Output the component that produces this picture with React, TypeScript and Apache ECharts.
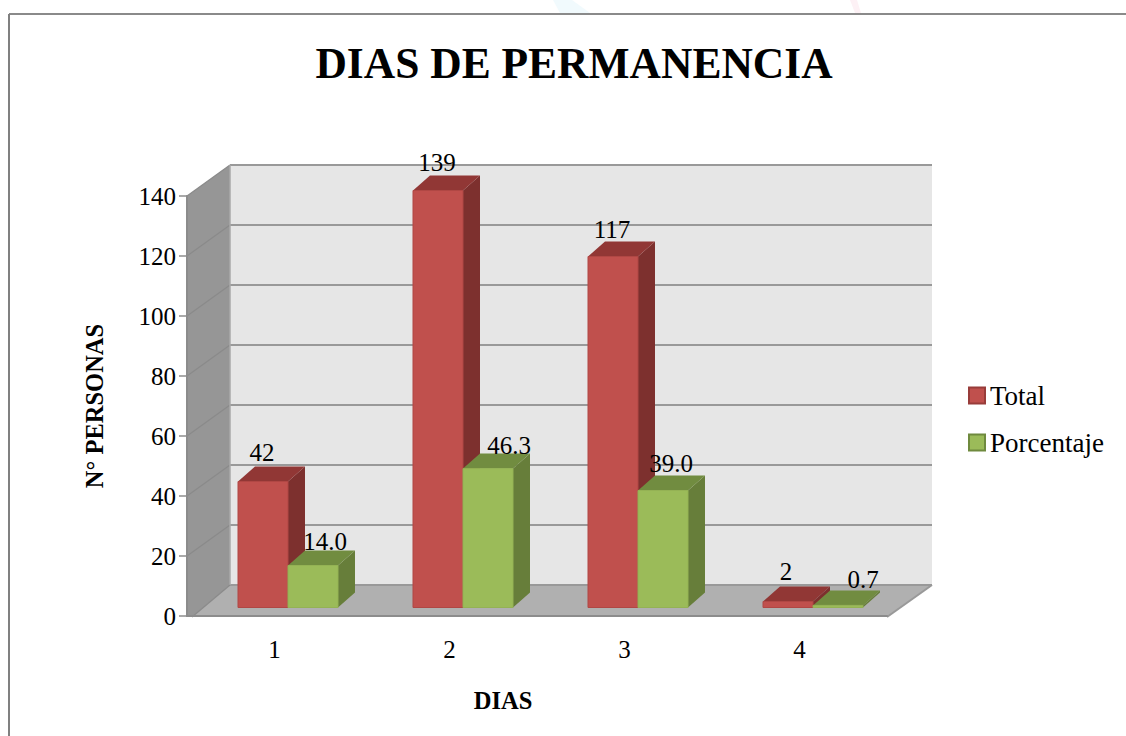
import React, { useEffect, useRef } from "react";
import * as echarts from "echarts";

const categories = ["1", "2", "3", "4"];
const totalValues = [42, 139, 117, 2];
const percentValues = [14.0, 46.3, 39.0, 0.7];
const totalLabels = ["42", "139", "117", "2"];
const percentLabels = ["14.0", "46.3", "39.0", "0.7"];
const yTicks = [0, 20, 40, 60, 80, 100, 120, 140];

// Manual label nudges of the original (px from front-face centre / top)
const totalNudge = [[-1, -29], [-1, -28], [-1, -27], [-2, -30]];
const percentNudge = [[12, -24], [21, -23], [8, -27], [25, -26]];

const FONT = "Liberation Serif";
const WALL_DX = 43;
const WALL_DY = -31;
const BAR_DX = 13.5;
const BAR_DY = -8.5;
const BAR_W = 50;
const DEPTH_X = 17;
const DEPTH_Y = -15;

function barRender(labels: string[], nudges: number[][], side: -1 | 1, c: { front: string; top: string; right: string; edge: string }) {
  return (params: any, api: any) => {
    const i = params.dataIndex;
    const top = api.coord([api.value(0), api.value(1)]);
    const base = api.coord([api.value(0), 0]);
    const cx = top[0] + BAR_DX;
    const x0 = side < 0 ? cx - BAR_W : cx;
    const x1 = x0 + BAR_W;
    const yT = top[1] + BAR_DY;
    const yB = base[1] + BAR_DY;
    return {
      type: "group",
      children: [
        { type: "polygon", shape: { points: [[x1, yT], [x1 + DEPTH_X, yT + DEPTH_Y], [x1 + DEPTH_X, yB + DEPTH_Y], [x1, yB]] }, style: { fill: c.right } },
        { type: "polygon", shape: { points: [[x0, yT], [x0 + DEPTH_X, yT + DEPTH_Y], [x1 + DEPTH_X, yT + DEPTH_Y], [x1, yT]] }, style: { fill: c.top } },
        { type: "rect", shape: { x: x0, y: yT, width: BAR_W, height: yB - yT }, style: { fill: c.front, stroke: c.edge, lineWidth: 1 } },
        {
          type: "text",
          style: {
            text: labels[i],
            x: (x0 + x1) / 2 + nudges[i][0],
            y: yT + nudges[i][1],
            align: "center",
            verticalAlign: "middle",
            fill: "#000",
            font: `25px "${FONT}"`,
          },
        },
      ],
    };
  };
}

function wallRender(params: any, api: any) {
  const cs = params.coordSys;
  const xL = cs.x;
  const xR = cs.x + cs.width;
  const y0 = api.coord([0, 0])[1];
  const yTop = api.coord([0, 140])[1];
  const children: any[] = [
    { type: "polygon", shape: { points: [[xL + WALL_DX, yTop + WALL_DY], [xR + WALL_DX + 2, yTop + WALL_DY], [xR + WALL_DX + 2, y0 + WALL_DY], [xL + WALL_DX, y0 + WALL_DY]] }, style: { fill: "#E6E6E6" } },
    { type: "polygon", shape: { points: [[xL, yTop], [xL + WALL_DX, yTop + WALL_DY], [xL + WALL_DX, y0 + WALL_DY], [xL + 5, y0 + 1], [xL, y0 + 1]] }, style: { fill: "#969696" } },
    { type: "polygon", shape: { points: [[xL + 5, y0 + 1], [xL + WALL_DX, y0 + WALL_DY], [xR + WALL_DX + 2, y0 + WALL_DY], [xR, y0 + 1]] }, style: { fill: "#B0B0B0" } },
  ];
  yTicks.forEach((t) => {
    const y = api.coord([0, t])[1];
    if (t > 0) {
      children.push({ type: "line", shape: { x1: xL, y1: y, x2: xL + WALL_DX, y2: y + WALL_DY }, style: { stroke: "#8A8A8A", lineWidth: 1.2 } });
    }
    children.push({ type: "line", shape: { x1: xL + WALL_DX, y1: y + WALL_DY, x2: xR + WALL_DX + 2, y2: y + WALL_DY }, style: { stroke: "#999999", lineWidth: 2 } });
  });
  children.push({ type: "line", shape: { x1: xL + WALL_DX, y1: yTop + WALL_DY, x2: xL + WALL_DX, y2: y0 + WALL_DY }, style: { stroke: "#A8A8A8", lineWidth: 1.5 } });
  children.push({ type: "line", shape: { x1: xR + WALL_DX + 2, y1: y0 + WALL_DY, x2: xR, y2: y0 + 1 }, style: { stroke: "#999999", lineWidth: 2 } });
  children.push({ type: "line", shape: { x1: xL + 5, y1: y0 + 1, x2: xL + WALL_DX, y2: y0 + WALL_DY }, style: { stroke: "#8A8A8A", lineWidth: 1.2 } });
  return { type: "group", children };
}

export default function App() {
  const ref = useRef<HTMLDivElement>(null);
  useEffect(() => {
    const chart = echarts.init(ref.current!, undefined, { renderer: "svg" });
    chart.setOption({
      animation: false,
      backgroundColor: "#fff",
      title: {
        text: "DIAS DE PERMANENCIA",
        left: 569,
        top: 36,
        textAlign: "center",
        textStyle: { fontFamily: FONT, fontWeight: "bold", fontSize: 43.5, color: "#000" },
      },
      legend: {
        orient: "vertical",
        left: 963,
        top: 377,
        itemGap: 20,
        itemWidth: 16,
        itemHeight: 16,
        icon: "rect",
        data: ["Total", "Porcentaje"],
        textStyle: { fontFamily: FONT, fontSize: 27, color: "#000" },
      },
      grid: { left: 187, right: 239, top: 196, bottom: 120 },
      xAxis: {
        type: "category",
        data: categories,
        name: "DIAS",
        nameLocation: "middle",
        nameGap: 70,
        nameTextStyle: { fontFamily: FONT, fontWeight: "bold", fontSize: 24.5, color: "#000", padding: [0, 68, 0, 0] },
        offset: 1.5,
        z: 5,
        axisLine: { lineStyle: { color: "#8C8C8C", width: 2 } },
        axisTick: { alignWithLabel: false, length: 6, lineStyle: { color: "#8C8C8C", width: 1.5 } },
        axisLabel: { fontFamily: FONT, fontSize: 25, color: "#000", margin: 19 },
      },
      yAxis: {
        type: "value",
        min: 0,
        max: 140,
        interval: 20,
        name: "N° PERSONAS",
        nameLocation: "middle",
        nameGap: 76,
        nameTextStyle: { fontFamily: FONT, fontWeight: "bold", fontSize: 24.5, color: "#000", padding: [0, 0, 4, 0] },
        z: 5,
        splitLine: { show: false },
        axisLine: { show: true, lineStyle: { color: "#8C8C8C", width: 2 } },
        axisTick: { show: true, length: 8, lineStyle: { color: "#8C8C8C", width: 1.5 } },
        axisLabel: { fontFamily: FONT, fontSize: 25, color: "#000", margin: 11 },
      },
      graphic: [
        { type: "polygon", shape: { points: [[553, 0], [572, 0], [590, 13], [560, 13]] }, style: { fill: "#F1FAFD" } },
        { type: "polygon", shape: { points: [[850, 0], [857, 0], [861, 13], [855, 13]] }, style: { fill: "#FDF1F5" } },
        { type: "line", shape: { x1: 9, y1: 14, x2: 1126, y2: 14 }, style: { stroke: "#8A8A8A", lineWidth: 2 } },
        { type: "line", shape: { x1: 9, y1: 14, x2: 9, y2: 736 }, style: { stroke: "#808080", lineWidth: 2 } },
      ],
      series: [
        {
          type: "custom",
          name: "walls",
          coordinateSystem: "cartesian2d",
          clip: false,
          silent: true,
          z: 1,
          data: [[0, 0]],
          encode: { x: 0, y: 1 },
          renderItem: wallRender,
        },
        {
          type: "custom",
          name: "Total",
          coordinateSystem: "cartesian2d",
          clip: false,
          z: 2,
          itemStyle: { color: "#C0504D", borderColor: "#983C3A", borderWidth: 1.5 },
          data: totalValues.map((v, i) => [i, v]),
          encode: { x: 0, y: 1 },
          renderItem: barRender(totalLabels, totalNudge, -1, { front: "#C0504D", top: "#913735", right: "#7D302E", edge: "#B04744" }),
        },
        {
          type: "custom",
          name: "Porcentaje",
          coordinateSystem: "cartesian2d",
          clip: false,
          z: 3,
          itemStyle: { color: "#9BBB59", borderColor: "#6F8A3E", borderWidth: 1.5 },
          data: percentValues.map((v, i) => [i, v]),
          encode: { x: 0, y: 1 },
          renderItem: barRender(percentLabels, percentNudge, 1, { front: "#9BBB59", top: "#718C40", right: "#677E3A", edge: "#94B254" }),
        },
      ],
    });
    return () => chart.dispose();
  }, []);
  return <div ref={ref} style={{ position: "absolute", left: 0, top: 0, width: 1126, height: 736 }} />;
}
